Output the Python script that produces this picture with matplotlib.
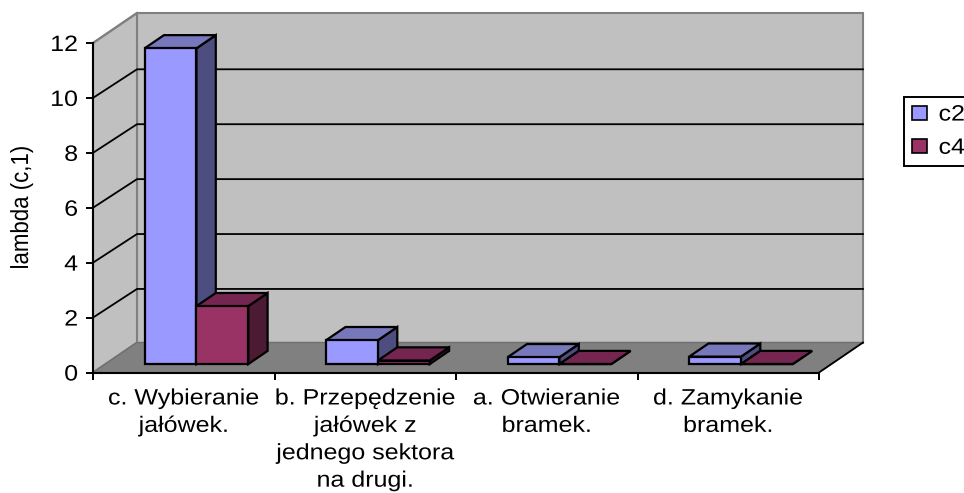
import matplotlib
matplotlib.use('Agg')
import matplotlib.pyplot as plt
from matplotlib.patches import Polygon, Patch
from matplotlib.patheffects import AbstractPathEffect
from matplotlib.transforms import Affine2D

plt.rcParams['font.family'] = ['Liberation Sans', 'DejaVu Sans']

# dane
categories = ['c. Wybieranie\njałówek.', 'b. Przepędzenie\njałówek z\njednego sektora\nna drugi.',
              'a. Otwieranie\nbramek.', 'd. Zamykanie\nbramek.']
c2 = [11.5, 0.87, 0.25, 0.27]
c4 = [2.11, 0.13, 0.0, 0.0]
y_ticks = [0, 2, 4, 6, 8, 10, 12]
series_names = ['c2', 'c4']

# kolory: przod, gora, bok
colors = {'c2': ('#9999FF', '#7777BB', '#4D4D80'),
          'c4': ('#993366', '#752650', '#4D1A33')}

W, H = 964, 493
DPI = 100
# przednia plaszczyzna w pikselach
LEFT, RIGHT, BOTTOM, TOP = 93, 819, 372.5, 43

# glebokosc wykresu w jednostkach osi
DX = 44 / ((RIGHT - LEFT) / 4)
DY = 30 / ((BOTTOM - TOP) / 12)
BAR_W = 0.2855
GAP = 0.2165
D0, D1 = 0.28, 0.72
GRID_SHIFT = 0.05


class Stretch(AbstractPathEffect):
    # oryginal jest rozciagniety w poziomie, tekst zostaje tekstem
    def __init__(self, sx, anchor=0.5):
        super().__init__()
        self.sx = sx
        self.anchor = anchor

    def draw_path(self, renderer, gc, tpath, affine, rgbFace=None):
        ext = tpath.get_extents()
        px = ext.x0 + self.anchor * ext.width
        st = Affine2D().translate(-px, 0).scale(self.sx, 1).translate(px, 0)
        renderer.draw_path(gc, tpath, st + affine, rgbFace)


def proj(x, v, d=0.0):
    return (x + d * DX, v + d * DY)


fig = plt.figure(figsize=(W / DPI, H / DPI), dpi=DPI)
ax = fig.add_axes([LEFT / W, 1 - BOTTOM / H, (RIGHT - LEFT) / W, (BOTTOM - TOP) / H])
ax.set_xlim(0, 4)
ax.set_ylim(0, 12)
ax.patch.set_visible(False)


def face(pts, fc, ec, lw=1.5, z=1):
    ax.add_patch(Polygon(pts, closed=True, facecolor=fc, edgecolor=ec, linewidth=lw,
                         clip_on=False, joinstyle='miter', zorder=z))


# sciany i podloga
n = len(categories)
vmax = y_ticks[-1]
face([proj(0, 0, 1), proj(n, 0, 1), proj(n, vmax, 1), proj(0, vmax, 1)], '#C0C0C0', '#808080', 1.5)
face([proj(0, 0, 0), proj(0, 0, 1), proj(0, vmax, 1), proj(0, vmax, 0)], '#C0C0C0', '#808080', 1.5)
face([proj(0, 0, 0), proj(n, 0, 0), proj(n, 0, 1), proj(0, 0, 1)], '#808080', '#707070', 1.0)
ax.plot(*zip(proj(n, 0, 0), proj(n, 0, 1)), color='black', lw=1.3, clip_on=False, zorder=2)

# linie siatki
for t in y_ticks[1:-1]:
    ax.plot(*zip(proj(0, t, 0), proj(0, t - GRID_SHIFT, 1), proj(n, t - GRID_SHIFT, 1)), color='black', lw=1.3,
            clip_on=False, zorder=2, solid_joinstyle='miter')
ax.plot(*zip(proj(0, vmax, 0), proj(0, vmax, 1)), color='#808080', lw=1.5, clip_on=False, zorder=2)


def bar3d(x, v, cols, z):
    fr, tp, sd = cols
    x2 = x + BAR_W
    face([proj(x2, 0, D0), proj(x2, 0, D1), proj(x2, v, D1), proj(x2, v, D0)], sd, 'black', 1.6, z)
    face([proj(x, v, D0), proj(x2, v, D0), proj(x2, v, D1), proj(x, v, D1)], tp, 'black', 1.6, z)
    face([proj(x, 0, D0), proj(x2, 0, D0), proj(x2, v, D0), proj(x, v, D0)], fr, 'black', 1.6, z)


# slupki
for i in range(n):
    bar3d(i + GAP, c2[i], colors['c2'], 3 + i * 2)
    bar3d(i + GAP + BAR_W, c4[i], colors['c4'], 4 + i * 2)

# osie
for s in ['top', 'right']:
    ax.spines[s].set_visible(False)
for s in ['left', 'bottom']:
    ax.spines[s].set_linewidth(1.5)
    ax.spines[s].set_zorder(20)
ax.set_yticks(y_ticks)
ax.set_xticks(range(n + 1))
ax.set_xticklabels([])
ax.set_xticks([i + 0.5 for i in range(n)], minor=True)
ax.set_xticklabels(categories, minor=True, fontsize=16, linespacing=1.4)
ax.tick_params(axis='x', which='minor', length=0, pad=11.5)
ax.tick_params(axis='both', which='major', length=5, width=1.4, direction='out', zorder=20)
ax.tick_params(axis='y', labelsize=16, pad=5.8)
ylab = ax.set_ylabel('lambda (c,1)', fontsize=17.8, labelpad=14.5)

for lbl in ax.get_xticklabels(minor=True):
    lbl.set_path_effects([Stretch(1.125)])
for lbl in ax.get_yticklabels():
    lbl.set_path_effects([Stretch(1.125, anchor=1.0)])
ylab.set_path_effects([Stretch(0.9)])

# legenda
handles = [Patch(facecolor=colors[s][0], edgecolor='black', linewidth=1.2, label=s) for s in series_names]
leg = fig.legend(handles=handles, loc='upper left', bbox_to_anchor=(904 / W, 1 - 97 / H), fontsize=16,
                 fancybox=False, framealpha=1, edgecolor='black', handlelength=0.68, handleheight=0.59,
                 handletextpad=0.54, labelspacing=0.55, borderpad=0.34, borderaxespad=0)
leg.get_frame().set_linewidth(1.4)
for txt in leg.get_texts():
    txt.set_path_effects([Stretch(1.125, anchor=0.0)])

fig.savefig('out.png', dpi=DPI)
